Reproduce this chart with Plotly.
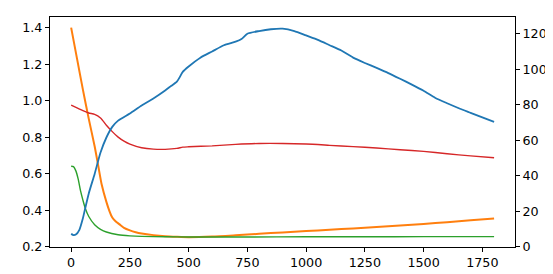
import plotly.graph_objects as go

# ---- data ----
blue_x = [0, 10, 20, 35, 50, 57, 75, 100, 125, 150, 175, 200, 250, 300, 350, 400, 425, 450,
          460, 475, 500, 550, 600, 650, 700, 725, 750, 800, 850, 900, 950, 1000, 1050, 1100,
          1150, 1200, 1250, 1300, 1350, 1400, 1450, 1500, 1550, 1600, 1650, 1700, 1750, 1800]
blue_y = [7.2, 6.5, 6.8, 9.5, 16, 20, 30, 41, 53, 61.5, 67.5, 71, 75, 79.5, 83.5, 88, 90.5, 93,
          95, 98.5, 101.5, 106.5, 110, 113.5, 115.5, 117, 120, 121.5, 122.5, 122.8, 121.5, 119,
          116.5, 113.5, 110.5, 106.5, 103.5, 100.7, 97.8, 94.6, 91.3, 87.8, 83.8, 80.8, 78,
          75.4, 72.8, 70.3]

orange_x = [0, 25, 50, 75, 100, 115, 130, 150, 163, 175, 190, 206, 225, 250, 275, 300, 350,
            400, 450, 500, 600, 700, 800, 900, 1000, 1100, 1200, 1300, 1400, 1500, 1600, 1700, 1800]
orange_y = [1.40, 1.23, 1.06, 0.90, 0.75, 0.645, 0.54, 0.445, 0.395, 0.36, 0.338, 0.322, 0.303,
            0.289, 0.279, 0.272, 0.263, 0.257, 0.254, 0.252, 0.255, 0.262, 0.270, 0.278, 0.285,
            0.292, 0.300, 0.308, 0.316, 0.324, 0.334, 0.344, 0.354]

red_x = [0, 25, 50, 75, 100, 125, 150, 175, 200, 225, 250, 300, 350, 400, 450, 475, 500, 600,
         700, 800, 900, 1000, 1100, 1200, 1300, 1400, 1500, 1600, 1700, 1800]
red_y = [0.975, 0.96, 0.945, 0.932, 0.925, 0.905, 0.865, 0.83, 0.80, 0.778, 0.762, 0.742, 0.734,
         0.733, 0.738, 0.745, 0.747, 0.752, 0.760, 0.765, 0.765, 0.762, 0.755, 0.748, 0.740,
         0.731, 0.722, 0.709, 0.697, 0.687]

green_x = [0, 10, 20, 30, 40, 50, 60, 75, 100, 125, 150, 200, 250, 300, 400, 500, 750, 1000,
           1250, 1500, 1800]
green_y = [0.64, 0.638, 0.615, 0.57, 0.505, 0.455, 0.41, 0.365, 0.32, 0.295, 0.28, 0.265, 0.259,
           0.256, 0.254, 0.253, 0.253, 0.254, 0.254, 0.255, 0.255]

x_ticks = [0, 250, 500, 750, 1000, 1250, 1500, 1750]
left_ticks = [0.2, 0.4, 0.6, 0.8, 1.0, 1.2, 1.4]
right_ticks = [0, 20, 40, 60, 80, 100, 120]

font = dict(family="DejaVu Sans", size=12.7, color="black")

fig = go.Figure()
fig.add_trace(go.Scatter(x=orange_x, y=orange_y, mode="lines", yaxis="y",
                         line=dict(color="#ff7f0e", width=2, shape="spline", smoothing=0.6)))
fig.add_trace(go.Scatter(x=red_x, y=red_y, mode="lines", yaxis="y",
                         line=dict(color="#d62728", width=1.4, shape="spline", smoothing=0.6)))
fig.add_trace(go.Scatter(x=green_x, y=green_y, mode="lines", yaxis="y",
                         line=dict(color="#2ca02c", width=1.4, shape="spline", smoothing=0.6)))
fig.add_trace(go.Scatter(x=blue_x, y=blue_y, mode="lines", yaxis="y2",
                         line=dict(color="#1f77b4", width=1.8, shape="spline", smoothing=0.6)))

axis_common = dict(showgrid=False, zeroline=False, showline=True, linecolor="black",
                   linewidth=1, ticks="outside", ticklen=4, tickwidth=1, tickcolor="black",
                   tickfont=font)

fig.update_layout(
    width=553, height=274,
    margin=dict(l=42, r=46, t=9, b=35),
    paper_bgcolor="white", plot_bgcolor="white",
    showlegend=False,
    xaxis=dict(range=[-90, 1889], tickvals=x_ticks, mirror=True, **axis_common),
    yaxis=dict(range=[0.198, 1.458], tickvals=left_ticks, tickformat=".1f", **axis_common),
    yaxis2=dict(range=[-0.2, 129.4], tickvals=right_ticks, overlaying="y", side="right",
                **axis_common),
)

fig.write_html("out.html")
